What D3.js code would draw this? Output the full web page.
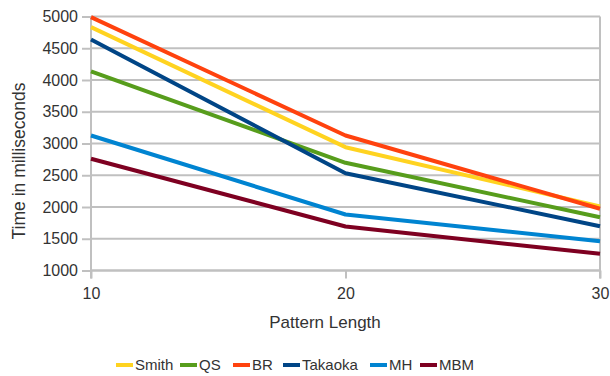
<!DOCTYPE html>
<html>
<head>
<meta charset="utf-8">
<script src="https://cdn.jsdelivr.net/npm/d3@7"></script>
<style>
  html, body { margin: 0; padding: 0; background: #fff; }
  svg { display: block; font-family: "Liberation Sans", Arial, sans-serif; }
</style>
</head>
<body>
<svg id="chart" width="610" height="376"></svg>
<script>
// Pattern lengths on the x axis
const patternLengths = [10, 20, 30];

// Running time (ms) for each algorithm at each pattern length
const seriesNames = ["Smith", "QS", "BR", "Takaoka", "MH", "MBM"];
const smith   = [4832, 2942, 2008];
const qs      = [4134, 2696, 1839];
const br      = [4990, 3126, 1972];
const takaoka = [4638, 2532, 1698];
const mh      = [3126, 1882, 1461];
const mbm     = [2759, 1693, 1263];
const seriesValues = [smith, qs, br, takaoka, mh, mbm];
const seriesColors = ["#ffd320", "#579d1c", "#ff420e", "#004586", "#0084d1", "#7e0021"];

// Axis ticks
const yTicks = [1000, 1500, 2000, 2500, 3000, 3500, 4000, 4500, 5000];
const xTicks = [10, 20, 30];

const svg = d3.select("#chart");
const plotLeft = 91, plotRight = 600, plotTop = 16.5, plotBottom = 270.5;

const x = d3.scaleLinear().domain([10, 30]).range([plotLeft, plotRight]);
const y = d3.scaleLinear().domain([1000, 5000]).range([plotBottom, plotTop]);

const gridColor = "#c0c0c0";
const textColor = "#333333";

// Horizontal grid lines
svg.append("g")
  .selectAll("line")
  .data(yTicks)
  .join("line")
  .attr("x1", plotLeft).attr("x2", plotRight)
  .attr("y1", d => y(d)).attr("y2", d => y(d))
  .attr("stroke", gridColor).attr("stroke-width", 2);

// Right border of the plot
svg.append("line")
  .attr("x1", plotRight).attr("x2", plotRight)
  .attr("y1", plotTop).attr("y2", plotBottom + 8)
  .attr("stroke", gridColor).attr("stroke-width", 2);

// Y axis
const yAxis = svg.append("g")
  .attr("transform", `translate(${plotLeft},0)`)
  .call(d3.axisLeft(y).tickValues(yTicks).tickSize(9).tickPadding(4).tickFormat(d3.format("d")));
yAxis.select(".domain").remove();
yAxis.append("line")
  .attr("x1", 0).attr("x2", 0).attr("y1", plotTop).attr("y2", plotBottom + 8)
  .attr("stroke", gridColor).attr("stroke-width", 2);

// X axis
const xAxis = svg.append("g")
  .attr("transform", `translate(0,${plotBottom})`)
  .call(d3.axisBottom(x).tickValues(xTicks).tickSize(8).tickPadding(9).tickFormat(d3.format("d")));
xAxis.select(".domain").remove();
xAxis.append("line")
  .attr("x1", plotLeft).attr("x2", plotRight).attr("y1", 0).attr("y2", 0)
  .attr("stroke", gridColor).attr("stroke-width", 2);

svg.selectAll(".tick line").attr("stroke", gridColor).attr("stroke-width", 2);
svg.selectAll(".tick text")
  .attr("fill", textColor)
  .style("font-size", "16px")
  .style("font-family", "'Liberation Sans', Arial, sans-serif");

// Series lines
const line = d3.line()
  .x((d, i) => x(patternLengths[i]))
  .y(d => y(d));

svg.append("g")
  .selectAll("path")
  .data(seriesValues)
  .join("path")
  .attr("d", d => line(d))
  .attr("fill", "none")
  .attr("stroke", (d, i) => seriesColors[i])
  .attr("stroke-width", 4)
  .attr("stroke-linejoin", "round");

// Axis titles
svg.append("text")
  .attr("x", 325).attr("y", 328)
  .attr("text-anchor", "middle")
  .attr("fill", textColor)
  .style("font-size", "17px")
  .text("Pattern Length");

svg.append("text")
  .attr("transform", "translate(25,161) rotate(-90)")
  .attr("text-anchor", "middle")
  .attr("fill", textColor)
  .style("font-size", "17.5px")
  .text("Time in milliseconds");

// Legend
const legendX = [116, 180, 233, 283, 370, 420];
const legend = svg.append("g").attr("transform", "translate(0,365)");
const items = legend.selectAll("g")
  .data(seriesNames)
  .join("g")
  .attr("transform", (d, i) => `translate(${legendX[i]},0)`);
items.append("line")
  .attr("x1", 0).attr("x2", 17).attr("y1", 0).attr("y2", 0)
  .attr("stroke", (d, i) => seriesColors[i]).attr("stroke-width", 4);
items.append("text")
  .attr("x", 19).attr("y", 5)
  .attr("fill", textColor)
  .style("font-size", "15px")
  .text(d => d);
</script>
</body>
</html>
